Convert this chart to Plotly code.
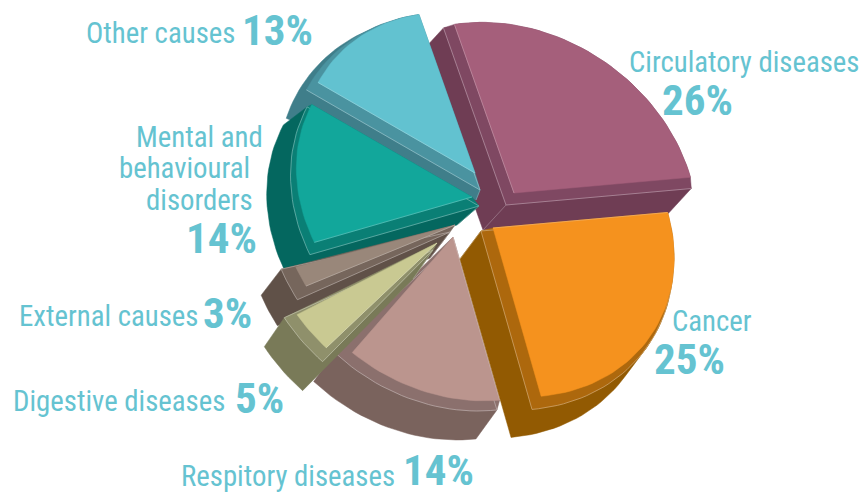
import math
import plotly.graph_objects as go

# ---- data (order is clockwise from "Circulatory")
categories = ["Circulatory diseases", "Cancer", "Respitory diseases", "Digestive diseases",
              "External causes", "Mental and behavioural disorders", "Other causes"]
shares = [26, 25, 14, 5, 3, 14, 13]

# ---- styling
START = 341.0
TEXT = "#65C3D1"
FONT = "'Noto Sans ExtraCondensed','Noto Sans Condensed','Roboto Condensed','Open Sans Condensed','DejaVu Sans Condensed',Roboto"
colors = {
    "Circulatory diseases": ("#A55F7B", "#7F4862", "#6F3D54"),
    "Cancer": ("#F5921E", "#AD680D", "#925A02"),
    "Respitory diseases": ("#BB958E", "#8B706D", "#7A635D"),
    "Digestive diseases": ("#C9C992", "#8F906B", "#797A58"),
    "External causes": ("#99877A", "#76665C", "#605148"),
    "Mental and behavioural disorders": ("#12A79B", "#0A7F75", "#04675F"),
    "Other causes": ("#62C2D0", "#4A93A0", "#3F7E8A"),
}
# explode / extrusion of each slice per face: (apex x, apex y, radius scale, angle shift, sweep factor)
faces = {
    "Circulatory diseases": [(514, 193, 1.0, 0, 1), (506, 205, 1.05, 0, 1), (483, 230, 1.05, 0, 1)],
    "Cancer": [(493, 228, 0.99, 0, 1), (481, 231, 1.05, 0, 1), (460, 259, 1.05, 0, 1)],
    "Respitory diseases": [(453, 237, 0.96, 0, 1), (447, 248, 0.955, -1.2, 1.123), (426, 277, 0.955, -1.2, 1.123)],
    "Digestive diseases": [(437, 243, 0.95, 4.6, 0.78), (433, 250, 0.98, 3, 1), (413, 279, 0.98, 3, 1)],
    "External causes": [(455, 225, 0.96, 5, 0.65), (450, 232, 1.0, 3.5, 1), (430, 258, 1.0, 3.5, 1)],
    "Mental and behavioural disorders": [(472, 197, 0.96, 0, 1), (479, 206, 1.03, 0, 1), (457, 225, 1.04, 0, 1)],
    "Other causes": [(475, 173, 0.94, 0, 1), (480, 190, 1.04, 0, 1), (476, 200, 1.08, -8, 1)],
}
# painter's order: "s" = sides of a slice, "t" = its top face
draw_steps = [("Circulatory diseases", "st"), ("Other causes", "st"),
              ("Mental and behavioural disorders", "st"), ("External causes", "st"),
              ("Respitory diseases", "s"), ("Digestive diseases", "st"),
              ("Respitory diseases", "t"), ("Cancer", "st")]
no_arc_highlight = {"Circulatory diseases", "Other causes"}

# (text line, x, y) of every label
label_lines = {
    "Circulatory diseases": [("Circulatory diseases", 627, 62)],
    "Cancer": [("Cancer", 670, 321)],
    "Respitory diseases": [("Respitory diseases", 179, 476)],
    "Digestive diseases": [("Digestive diseases", 11, 401)],
    "External causes": [("External causes", 17, 316)],
    "Mental and behavioural disorders": [("Mental and", 134, 137), ("behavioural", 117, 168), ("disorders", 144, 200)],
    "Other causes": [("Other causes", 84, 33)],
}
share_pos = {
    "Circulatory diseases": (660, 100), "Cancer": (652, 359), "Respitory diseases": (401, 470),
    "Digestive diseases": (233, 398), "External causes": (201, 313),
    "Mental and behavioural disorders": (184, 238), "Other causes": (240, 30),
}


def wedge(a0, a1, face):
    """Outline of a slice under the tilt of the pie plane."""
    ax, ay, s, rot, k = face
    n = max(8, int(abs(a1 - a0) / 2))
    pts = [(ax, ay)]
    for i in range(n + 1):
        t = math.radians(a0 + rot + k * (a1 - a0) * i / n)
        u, v = math.sin(t), -math.cos(t)
        pts.append((ax + s * 183 * u, ay + s * (30 * u + 168 * v)))
    return pts


def hull(points):
    p = sorted(set(points))
    def half(seq):
        out = []
        for q in seq:
            while len(out) > 1 and ((out[-1][0]-out[-2][0])*(q[1]-out[-2][1]) -
                                    (out[-1][1]-out[-2][1])*(q[0]-out[-2][0])) <= 0:
                out.pop()
            out.append(q)
        return out[:-1]
    return half(p) + half(p[::-1])


def poly(pts, color, name):
    xs = [q[0] for q in pts] + [pts[0][0]]
    ys = [q[1] for q in pts] + [pts[0][1]]
    return go.Scatter(x=xs, y=ys, mode="lines", fill="toself", fillcolor=color,
                      line=dict(color=color, width=0.5), name=name, hoverinfo="name", showlegend=False)


def pale(pts, color, k):
    r, g, b = (int(color[i:i+2], 16) for i in (1, 3, 5))
    col = "rgb(%d,%d,%d)" % tuple(round(c + (255 - c) * k) for c in (r, g, b))
    return go.Scatter(x=[q[0] for q in pts], y=[q[1] for q in pts], mode="lines",
                      line=dict(color=col, width=0.7), hoverinfo="skip", showlegend=False)


total = sum(shares)
spans, acc = {}, START
for cat, share in zip(categories, shares):
    sweep = 360 * share / total
    spans[cat] = (acc, acc + sweep)
    acc += sweep

fig = go.Figure()
for cat, parts in draw_steps:
    a0, a1 = spans[cat]
    top, mid, low = [wedge(a0, a1, f) for f in faces[cat]]
    ct, cm, cl = colors[cat]
    if "s" in parts:
        fig.add_trace(poly(hull(mid + low), cl, cat))
        fig.add_trace(poly(hull(top + mid), cm, cat))
        seam = mid[-1:] + mid[:2] if cat in no_arc_highlight else mid + mid[:1]
        fig.add_trace(pale(seam, cm, 0.45))
        fig.add_trace(pale([mid[0], low[0]], cl, 0.35))
    if "t" in parts:
        fig.add_trace(poly(top, ct, cat))
        fig.add_trace(pale([top[0], top[1]], ct, 0.35))

for cat, share in zip(categories, shares):
    for txt, x, y in label_lines[cat]:
        fig.add_annotation(x=x, y=y, text=txt, showarrow=False, xanchor="left", yanchor="middle",
                           font=dict(family=FONT, size=28.8, color=TEXT))
    x, y = share_pos[cat]
    fig.add_annotation(x=x, y=y, text=f"<b>{share}%</b>", showarrow=False, xanchor="left", yanchor="middle",
                       font=dict(family=FONT, size=43, color=TEXT))

fig.update_layout(width=861, height=492, margin=dict(l=0, r=0, t=0, b=0),
                  paper_bgcolor="white", plot_bgcolor="white", showlegend=False,
                  xaxis=dict(range=[0, 861], visible=False, fixedrange=True),
                  yaxis=dict(range=[492, 0], visible=False, fixedrange=True))
fig.write_html("out.html", config={"displayModeBar": False},
               post_script="document.body.style.margin='0';document.body.style.overflow='hidden';")
